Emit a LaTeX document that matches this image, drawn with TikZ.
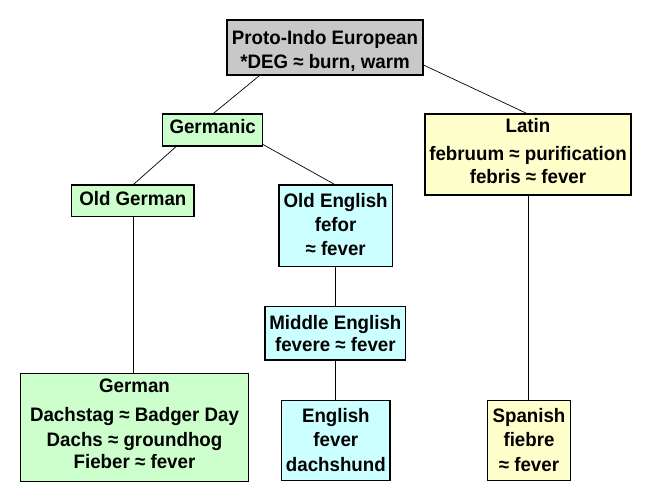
\documentclass[tikz,border=0pt]{standalone}
\usepackage{fontspec}
\setmainfont[FakeStretch=0.96]{Liberation Sans}
\definecolor{piegray}{HTML}{C8C8C8}
\definecolor{ggreen}{HTML}{CCFFCC}
\definecolor{ecyan}{HTML}{CCFFFF}
\definecolor{lyellow}{HTML}{FFFFCC}
\newcommand\topst[1]{\rule{0pt}{#1}}
\newcommand\botst[1]{\rule[-#1]{0pt}{#1}}
\tikzset{
  langbox/.style={draw=black, line width=1.1pt, inner sep=0pt, outer sep=0pt, align=center,
    font=\bfseries\fontsize{19.5}{20}\selectfont},
  link/.style={draw=black, line width=0.7pt},
}
\begin{document}
\begin{tikzpicture}[x=1pt,y=-1pt]
\useasboundingbox[fill=white] (0,0) rectangle (651,501);
\node[langbox, fill=piegray, minimum width=196pt, minimum height=55pt] (pie) at (325,47.5)
  {\topst{24pt}Proto-Indo European\\[4pt]*DEG ≈ burn, warm\botst{7pt}};
\node[langbox, fill=ggreen, minimum width=100pt, minimum height=32pt] (germ) at (212.7,130)
  {\topst{19.3pt}Germanic\botst{12.7pt}};
\node[langbox, fill=lyellow, minimum width=206pt, minimum height=81pt] (latin) at (528,154.5)
  {\topst{18.3pt}Latin\\[7.7pt]februum ≈ purification\\[3.3pt]febris ≈ fever\botst{11.7pt}};
\node[langbox, fill=ggreen, minimum width=122.3pt, minimum height=31.7pt] (og) at (132.85,200.85)
  {\topst{20pt}Old German\botst{11.7pt}};
\node[langbox, fill=ecyan, minimum width=113.3pt, minimum height=81.7pt] (oe) at (335.65,225.85)
  {\topst{22.3pt}Old English\\[3.7pt]fefor\\[4.7pt]≈ fever\botst{11pt}};
\node[langbox, fill=ecyan, minimum width=140.7pt, minimum height=53.3pt] (me) at (335.35,333.35)
  {\topst{22.3pt}Middle English\\[2pt]fevere ≈ fever\botst{9pt}};
\node[langbox, fill=ggreen, minimum width=227.6pt, minimum height=108.4pt] (ger) at (134.5,427.5)
  {\topst{19pt}German\\[9.4pt]Dachstag ≈ Badger Day\\[5pt]Dachs ≈ groundhog\\[1.6pt]Fieber ≈ fever\botst{13.4pt}};
\node[langbox, fill=ecyan, minimum width=108.3pt, minimum height=80pt] (en) at (335.85,440.7)
  {\topst{22pt}English\\[4pt]fever\\[4.3pt]dachshund\botst{9.7pt}};
\node[langbox, fill=lyellow, minimum width=83.4pt, minimum height=80pt] (sp) at (529,440.7)
  {\topst{22pt}Spanish\\[4pt]fiebre\\[4.3pt]≈ fever\botst{9.7pt}};
\draw[link] (pie.203) -- (germ.north);
\draw[link] (pie.-10) -- (latin.north);
\draw[link] (germ.204) -- (og.north);
\draw[link] (germ.-16) -- (oe.north);
\draw[link] (og.south) -- (og.south |- ger.north);
\draw[link] (oe.south) -- (oe.south |- me.north);
\draw[link] (me.south) -- (me.south |- en.north);
\draw[link] (latin.south) -- (latin.south |- sp.north);
\end{tikzpicture}
\end{document}
